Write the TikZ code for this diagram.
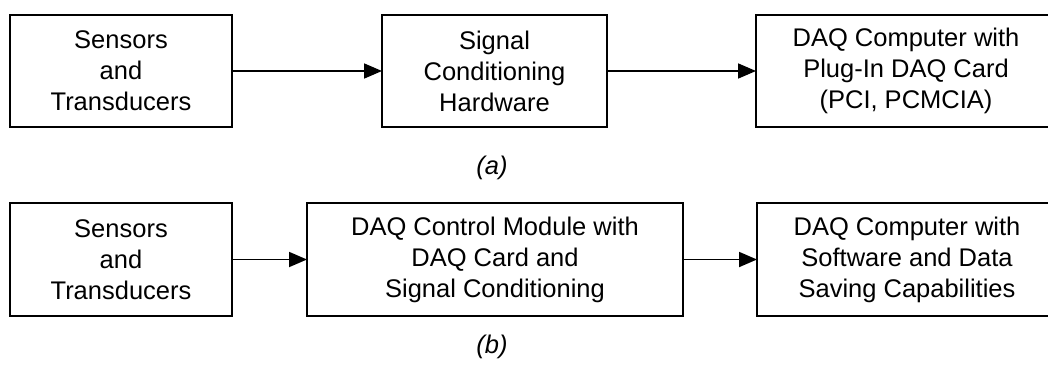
\documentclass[tikz,border=0pt]{standalone}
\usepackage{fontspec}
\setmainfont{Liberation Sans}
\usepackage{tikz}
\usetikzlibrary{arrows.meta,positioning}
\newcommand{\daqfont}{\fontsize{25.5}{31}\selectfont}
\tikzset{
  daqbox/.style={rectangle, draw=black, line width=2pt, align=center, minimum height=112pt, inner sep=0pt, outer sep=0pt, font=\daqfont},
  daqcap/.style={inner sep=0pt, font=\daqfont\itshape},
  daqarrow/.style={-{Triangle[length=18pt,width=15pt]}, line width=1.8pt}
}

\begin{document}
\begin{tikzpicture}[x=1pt,y=-1pt]
\useasboundingbox (0,0) rectangle (1048,367);

% (a) plug-in card
\node[daqbox, minimum width=222pt] (sensA) at (121,71) {Sensors\\and\\Transducers};
\node[daqbox, minimum width=225pt, right=150pt of sensA] (condA) {Signal\\Conditioning\\Hardware};
\node[daqbox, minimum width=300pt, right=149pt of condA] (compA) {DAQ Computer with\\Plug-In DAQ Card\\(PCI, PCMCIA)};
\node[daqcap] (capA) at (492,168) {(a)};

% (b) control module
\node[daqbox, minimum width=222pt, minimum height=113pt] (sensB) at (121,259.5) {Sensors\\and\\Transducers};
\node[daqbox, minimum width=376pt, minimum height=113pt, right=75pt of sensB] (ctrlB) {DAQ Control Module with\\DAQ Card and\\Signal Conditioning};
\node[daqbox, minimum width=300pt, minimum height=113pt, right=74pt of ctrlB] (compB) {DAQ Computer with\\Software and Data\\Saving Capabilities};
\node[daqcap] (capB) at (492,347) {(b)};

\draw[daqarrow] (sensA) -- (condA);
\draw[daqarrow] (condA) -- (compA);
\draw[daqarrow] (sensB) -- (ctrlB);
\draw[daqarrow] (ctrlB) -- (compB);
\end{tikzpicture}
\end{document}
